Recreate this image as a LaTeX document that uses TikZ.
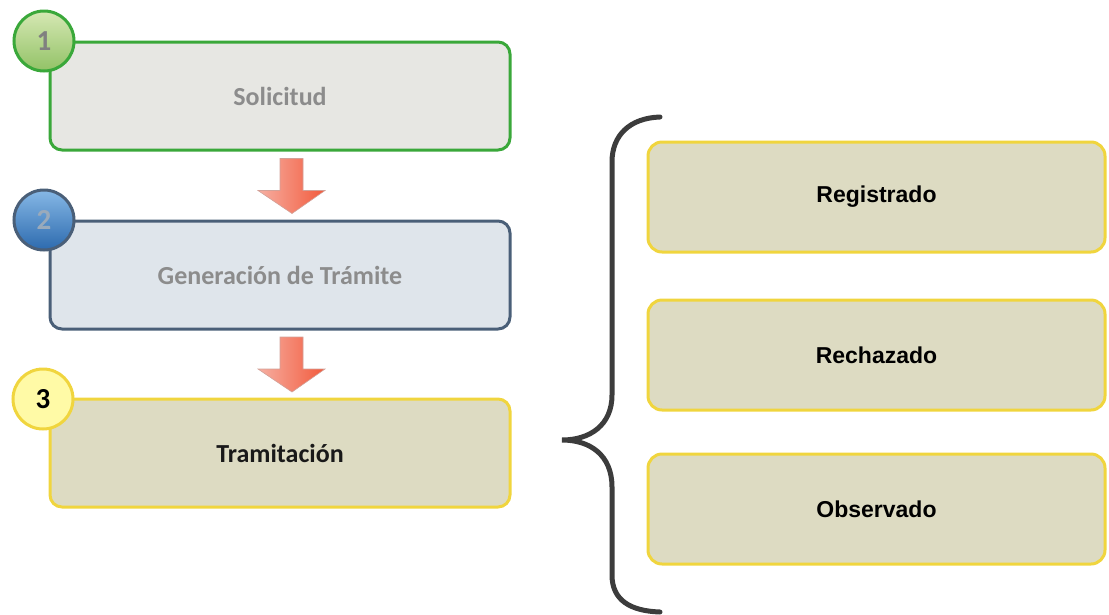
\documentclass[tikz,border=0pt]{standalone}
\usepackage{fontspec}
\setmainfont{Carlito}
\newfontfamily\arialfont{Liberation Sans}
\usetikzlibrary{calc}
\definecolor{stepgreen}{HTML}{3AA83A}
\definecolor{stepblue}{HTML}{4A5F78}
\definecolor{stepyellow}{HTML}{F0D53E}
\definecolor{boxgray}{HTML}{E7E7E3}
\definecolor{boxblue}{HTML}{DFE5EB}
\definecolor{boxkhaki}{HTML}{DDDBC2}
\definecolor{textgray}{HTML}{8C8C8C}
\definecolor{greentop}{HTML}{D6E8B4}
\definecolor{greenbot}{HTML}{92C266}
\definecolor{bluetop}{HTML}{86B8E6}
\definecolor{bluebot}{HTML}{2C6AAE}
\definecolor{numblue}{HTML}{9AAABB}
\definecolor{arrowlight}{HTML}{F6AFA2}
\definecolor{arrowred}{HTML}{F25A3C}
\definecolor{bracegray}{HTML}{3C3C3C}
\tikzset{
  stepbox/.style={draw,line width=3pt,rounded corners=12pt,minimum width=460,minimum height=108,
    font=\bfseries\fontsize{26}{30}\selectfont},
  numcirc/.style={circle,draw,line width=3pt,minimum size=60,inner sep=0pt,
    font=\bfseries\fontsize{29}{33}\selectfont},
  statebox/.style={draw=stepyellow,fill=boxkhaki,line width=3pt,rounded corners=14pt,
    minimum width=457,minimum height=110,font=\arialfont\bfseries\fontsize{23}{27}\selectfont},
  downarrow/.style={left color=arrowlight,right color=arrowred,draw=arrowlight!70!gray,line width=0.6pt}
}
\begin{document}
\begin{tikzpicture}[x=1pt,y=-1pt]
   \useasboundingbox (0,0) rectangle (1109,614);
   %steps
   \node[stepbox,draw=stepgreen,fill=boxgray,text=textgray] (s1) at (280,96) {Solicitud};
   \node[stepbox,draw=stepblue,fill=boxblue,text=textgray] (s2) at (280,275) {Generación de Trámite};
   \node[stepbox,draw=stepyellow,fill=boxkhaki,text=black!90] (s3) at (280,453) {Tramitación};
   %numbers
   \node[numcirc,draw=stepgreen,top color=greentop,bottom color=greenbot,text=gray] (c1) at (44,41) {1};
   \node[numcirc,draw=stepblue,top color=bluetop,bottom color=bluebot,text=numblue] (c2) at (44,220) {2};
   \node[numcirc,draw=stepyellow,fill=yellow!35!white,text=black] (c3) at (43,399) {3};
   %arrows
   \foreach \a/\b in {s1/s2,s2/s3}{
     \coordinate (m) at ($(\a.south)!0.5!(\b.north)+(11,0)$);
     \shade[downarrow] ($(m)+(-11,-27)$) -- ($(m)+(12,-27)$) -- ($(m)+(12,5)$) -- ($(m)+(34,5)$)
       -- ($(m)+(1,28)$) -- ($(m)+(-33,5)$) -- ($(m)+(-11,5)$) -- cycle;
   }
   %brace
   \draw[bracegray,line width=5pt,line cap=round] (660,117) .. controls (630,118) and (612,135) .. (612,162)
     -- (612,395) .. controls (612,425) and (590,440) .. (562,440)
     .. controls (590,440) and (612,455) .. (612,487)
     -- (612,575) .. controls (612,600) and (630,611) .. (660,612);
   %states
   \node[statebox] (r1) at (876.5,197) {Registrado};
   \node[statebox] (r2) at (876.5,355) {Rechazado};
   \node[statebox] (r3) at (876.5,509) {Observado};
\end{tikzpicture}
\end{document}
